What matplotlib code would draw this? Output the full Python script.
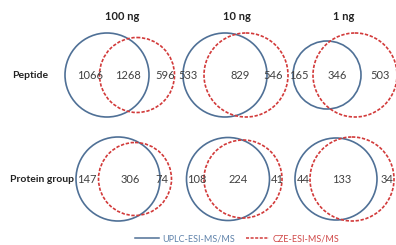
import matplotlib.pyplot as plt
from matplotlib.patches import Circle
from matplotlib.lines import Line2D

plt.rcParams['font.family'] = ['Lato', 'DejaVu Sans']

# data
amounts = ["100 ng", "10 ng", "1 ng"]
rows = ["Peptide", "Protein group"]
# counts per panel: (UPLC only, both, CZE only)
peptide_counts = [(1066, 1268, 596), (533, 829, 546), (165, 346, 503)]
protein_counts = [(147, 306, 74), (108, 224, 41), (44, 133, 34)]
series = ["UPLC-ESI-MS/MS", "CZE-ESI-MS/MS"]

# layout (pixel units of the 396x245 canvas)
col_x = [122, 237, 344]
row_y = [75, 179]
header_y = 17
# per panel circle geometry: (blue dx, blue r, red dx, red r)
geom = [
    [(-15, 42, 15, 37.5), (-12, 42, 9, 42), (-17, 34, 11, 42)],
    [(-4, 42, 13, 36.5), (-9, 41.5, 6, 39), (-8, 41, 8, 42)],
]
text_x = [
    [(-32, 6, 43), (-49, 3, 36), (-45, -7, 36)],
    [(-35, 8, 40), (-40, 1, 40), (-41, -2, 43)],
]

blue = "#4f7096"
red = "#d23a3a"

fig = plt.figure(figsize=(3.96, 2.45), dpi=100)
ax = fig.add_axes([0, 0, 1, 1])
ax.set_xlim(0, 396)
ax.set_ylim(245, 0)
ax.axis("off")

for j, name in enumerate(amounts):
    ax.text(col_x[j], header_y, name, ha="center", va="center",
            fontsize=8, fontweight="bold", color="#222222")

row_label_x = [12, 10]
for i, (label, counts) in enumerate(zip(rows, [peptide_counts, protein_counts])):
    ax.text(row_label_x[i], row_y[i], label, ha="left", va="center",
            fontsize=7.5, fontweight="bold", color="#222222")
    for j, (a, b, c) in enumerate(counts):
        bdx, br, rdx, rr = geom[i][j]
        cx, cy = col_x[j], row_y[i]
        ax.add_patch(Circle((cx + bdx, cy), br, fill=False, ec=blue, lw=1.2))
        ax.add_patch(Circle((cx + rdx, cy), rr, fill=False, ec=red, lw=1.2,
                            ls=(0, (2, 1))))
        for dx, v in zip(text_x[i][j], (a, b, c)):
            ax.text(cx + dx, cy, str(v), ha="center", va="center",
                    fontsize=8, color="#404040")

handles = [Line2D([], [], color=blue, lw=1.1),
           Line2D([], [], color=red, lw=1.1, ls=(0, (2, 1)))]
leg = fig.legend(handles, series, loc="center", bbox_to_anchor=(0.6, 1 - 239 / 245),
                 ncol=2, frameon=False, fontsize=6.5, handlelength=2.6,
                 handletextpad=0.4, columnspacing=1.2)
for t, c in zip(leg.get_texts(), ["#5f82aa", "#d04848"]):
    t.set_color(c)

fig.savefig("out.png", dpi=100)
